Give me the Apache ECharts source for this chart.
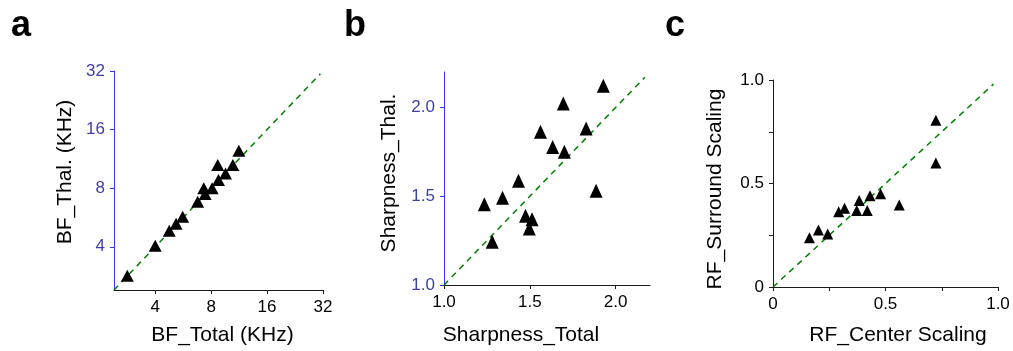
<!DOCTYPE html>
<html>
<head>
<meta charset="utf-8">
<script src="https://cdn.jsdelivr.net/npm/echarts@6/dist/echarts.min.js"></script>
<style>
html,body{margin:0;padding:0;background:#fff;}
#chart{width:1013px;height:351px;}
</style>
</head>
<body>
<div id="chart"></div>
<script>
// Panel a: BF (KHz), log2 axes
const bfTotal = [2.83, 4.0, 4.76, 5.18, 5.62, 6.77, 7.30, 7.42, 8.1, 8.76, 8.68, 9.56, 10.47, 11.28];
const bfThal  = [2.84, 4.05, 4.83, 5.25, 5.70, 6.82, 7.99, 7.47, 8.0, 8.81, 10.52, 9.53, 10.52, 12.45];
const bfTicks = [4, 8, 16, 32];
const bfRange = [2.4, 32];
const bfDiag = [2.4, 31];

// Panel b: Sharpness
const sharpTotal = [1.928, 1.695, 1.562, 1.828, 1.633, 1.701, 1.434, 1.886, 1.341, 1.235, 1.475, 1.513, 1.497, 1.281];
const sharpThal  = [2.123, 2.022, 1.864, 1.881, 1.778, 1.751, 1.587, 1.531, 1.491, 1.455, 1.390, 1.371, 1.318, 1.243];
const sharpTicks = [1.0, 1.5, 2.0];
const sharpRange = [1.0, 2.2];
const sharpDiag = [1.0, 2.17];

// Panel c: RF scaling
const rfCenter   = [0.724, 0.724, 0.478, 0.431, 0.383, 0.561, 0.318, 0.292, 0.372, 0.419, 0.202, 0.243, 0.162];
const rfSurround = [0.806, 0.599, 0.450, 0.441, 0.418, 0.396, 0.381, 0.363, 0.370, 0.370, 0.275, 0.256, 0.238];
const rfTicks = [0, 0.25, 0.5, 0.75, 1.0];
const rfLabels = [0, 0.5, 1.0];
const rfRange = [0, 1];
const rfDiag = [0, 0.98];

const FONT = "'Liberation Sans', Arial, Helvetica, sans-serif";
const BLUE_LINE = '#3535ff';
const BLUE_TEXT = '#3f3fa8';
const BLACK = '#1a1a1a';

function pairs(xs, ys) { return xs.map((x, i) => [x, ys[i]]); }
function diag(d) { return d.map(v => [v, v]); }
function fmt1(v) { return v === 0 ? '0' : Number(v).toFixed(1); }

function baseAxis(gridIndex, color, textColor) {
  return {
    gridIndex,
    axisLine: { show: true, onZero: false, lineStyle: { color, width: 1 } },
    axisTick: { show: true, inside: false, length: 4, lineStyle: { color, width: 1 } },
    splitLine: { show: false },
    axisLabel: { fontFamily: FONT, fontSize: 17, color: textColor, margin: 9 },
    nameLocation: 'middle',
    nameTextStyle: { fontFamily: FONT, fontSize: 21, color: '#000' }
  };
}

const xA = Object.assign(baseAxis(0, BLACK, '#000'), {
  type: 'log', logBase: 2, min: bfRange[0], max: bfRange[1],
  name: 'BF_Total (KHz)', nameGap: 35
});
xA.axisLabel.showMinLabel = false;
xA.nameTextStyle.padding = [0, 0, 0, 8];

const yA = Object.assign(baseAxis(0, BLUE_LINE, BLUE_TEXT), {
  type: 'log', logBase: 2, min: bfRange[0], max: bfRange[1],
  name: 'BF_Thal. (KHz)', nameGap: 38
});
yA.axisLabel.showMinLabel = false;
yA.nameTextStyle.padding = [0, 0, 0, 17];

const xB = Object.assign(baseAxis(1, BLACK, '#000'), {
  type: 'value', min: sharpRange[0], max: sharpRange[1], interval: 0.5,
  name: 'Sharpness_Total', nameGap: 40
});
xB.axisLabel.customValues = sharpTicks;
xB.axisTick.customValues = sharpTicks;
xB.axisLabel.formatter = fmt1;
xB.nameTextStyle.padding = [0, 52, 0, 0];

const yB = Object.assign(baseAxis(1, BLUE_LINE, BLUE_TEXT), {
  type: 'value', min: sharpRange[0], max: sharpRange[1], interval: 0.5,
  name: 'Sharpness_Thal.', nameGap: 44
});
yB.axisLabel.customValues = sharpTicks;
yB.axisTick.customValues = sharpTicks;
yB.axisLabel.formatter = fmt1;
yB.nameTextStyle.padding = [0, 0, 0, 11];

const xC = Object.assign(baseAxis(2, BLACK, '#000'), {
  type: 'value', min: rfRange[0], max: rfRange[1], interval: 0.25,
  name: 'RF_Center Scaling', nameGap: 38
});
xC.axisLabel.customValues = rfLabels;
xC.axisTick.customValues = rfTicks;
xC.axisLabel.formatter = fmt1;
xC.nameTextStyle.padding = [0, 0, 0, 25];

const yC = Object.assign(baseAxis(2, BLACK, '#000'), {
  type: 'value', min: rfRange[0], max: rfRange[1], interval: 0.25,
  name: 'RF_Surround Scaling', nameGap: 47
});
yC.axisLabel.customValues = rfLabels;
yC.axisTick.customValues = rfTicks;
yC.axisLabel.formatter = fmt1;
yC.nameTextStyle.padding = [0, 11, 0, 0];

function scatter(idx, data, size) {
  return {
    type: 'scatter', xAxisIndex: idx, yAxisIndex: idx, data,
    symbol: 'triangle', symbolSize: size,
    itemStyle: { color: '#000', opacity: 1 },
    silent: true, z: 3
  };
}
function dashLine(idx, data) {
  return {
    type: 'line', xAxisIndex: idx, yAxisIndex: idx, data,
    showSymbol: false, symbol: 'none', silent: true, z: 2,
    lineStyle: { color: '#008000', width: 1.5, type: [6, 5] }
  };
}

const letterStyle = { fontFamily: FONT, fontSize: 36, fontWeight: 'bold', color: '#000' };

const option = {
  animation: false,
  backgroundColor: '#fff',
  title: [
    { text: 'a', left: 11, top: 8, padding: 0, textStyle: letterStyle },
    { text: 'b', left: 344, top: 8, padding: 0, textStyle: letterStyle },
    { text: 'c', left: 665, top: 8, padding: 0, textStyle: letterStyle }
  ],
  grid: [
    { left: 114, top: 71, width: 209, height: 219 },
    { left: 444, top: 72, width: 206, height: 217 },
    { left: 773, top: 80, width: 225, height: 209 }
  ],
  xAxis: [xA, xB, xC],
  yAxis: [yA, yB, yC],
  series: [
    dashLine(0, diag(bfDiag)),
    scatter(0, pairs(bfTotal, bfThal), [13, 12]),
    dashLine(1, diag(sharpDiag)),
    scatter(1, pairs(sharpTotal, sharpThal), [13, 14]),
    dashLine(2, diag(rfDiag)),
    scatter(2, pairs(rfCenter, rfSurround), [11, 11])
  ]
};

const chart = echarts.init(document.getElementById('chart'), null, { renderer: 'canvas' });
chart.setOption(option);
</script>
</body>
</html>
